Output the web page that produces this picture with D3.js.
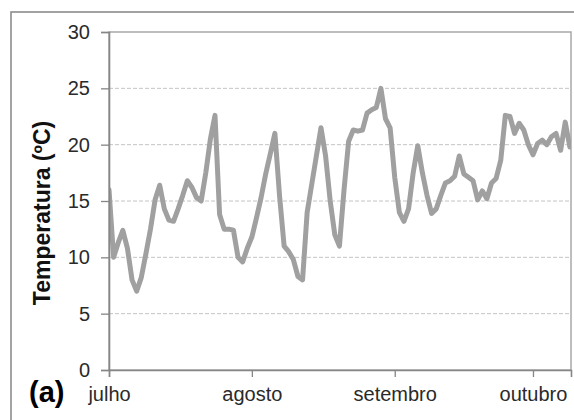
<!DOCTYPE html>
<html>
<head>
<meta charset="utf-8">
<script src="https://cdn.jsdelivr.net/npm/d3@7"></script>
<style>
  html, body { margin: 0; padding: 0; background: #fff; }
  svg { display: block; font-family: "Liberation Sans", Arial, sans-serif; }
</style>
</head>
<body>
<svg id="chart" width="574" height="420"></svg>
<script>
// Daily mean temperature (ºC), one value per day from 1 July
const startDate = new Date(2013, 6, 1);
const temperatures = [
  16, 10, 11.3, 12.4, 10.8, 8, 7, 8.2, 10.3, 12.5,
  15.1, 16.4, 14.3, 13.3, 13.2, 14.3, 15.5, 16.8, 16.2, 15.3,
  15.0, 17.5, 20.5, 22.6, 13.8, 12.5, 12.5, 12.4, 10, 9.6,
  10.8, 11.8, 13.5, 15.3, 17.4, 19.2, 21, 15.5, 11, 10.5,
  9.8, 8.3, 8, 14, 16.5, 19, 21.5, 19, 15, 12,
  11, 16, 20.3, 21.3, 21.2, 21.3, 22.8, 23.1, 23.3, 25,
  22.3, 21.5, 17.1, 14, 13.2, 14.3, 17.5, 19.9, 17.5, 15.5,
  13.9, 14.3, 15.5, 16.6, 16.8, 17.2, 19, 17.4, 17.1, 16.8,
  15.1, 15.9, 15.2, 16.6, 17, 18.6, 22.6, 22.5, 21, 21.9,
  21.3, 20, 19.1, 20.1, 20.4, 20, 20.7, 21, 19.5, 22,
  19.8
];

// Month tick positions and their labels
const monthStarts = [new Date(2013, 6, 1), new Date(2013, 7, 1), new Date(2013, 8, 1), new Date(2013, 9, 1)];
const monthLabels = ["julho", "agosto", "setembro", "outubro"];

// Y axis ticks
const yTicks = [0, 5, 10, 15, 20, 25, 30];
const yTitle = "Temperatura (ºC)";
const panelLabel = "(a)";

const series = temperatures.map((v, i) => ({ date: d3.timeDay.offset(startDate, i), value: v }));

const svg = d3.select("#chart");
const plot = { left: 109, right: 571, top: 32, bottom: 370 };

const x = d3.scaleTime()
  .domain([startDate, new Date(2013, 9, 9, 6)])
  .range([plot.left, plot.right]);
const y = d3.scaleLinear().domain([0, 30]).range([plot.bottom, plot.top]);

// Outer chart frame
svg.append("rect")
  .attr("x", 11).attr("y", 12).attr("width", 600).attr("height", 450)
  .attr("fill", "none").attr("stroke", "#8c8c8c").attr("stroke-width", 1.6);

// Dashed horizontal gridlines
svg.append("g")
  .selectAll("line")
  .data(yTicks.filter(t => t > 0 && t < 30))
  .join("line")
  .attr("x1", plot.left).attr("x2", plot.right)
  .attr("y1", d => y(d)).attr("y2", d => y(d))
  .attr("stroke", "#c4c4c4").attr("stroke-width", 1)
  .attr("stroke-dasharray", "4,2");

// Plot area border
svg.append("rect")
  .attr("x", plot.left).attr("y", plot.top)
  .attr("width", plot.right - plot.left).attr("height", plot.bottom - plot.top)
  .attr("fill", "none").attr("stroke", "#a8a8a8").attr("stroke-width", 1.5);

// Temperature line, clipped to the plot area
svg.append("defs").append("clipPath").attr("id", "plotClip")
  .append("rect").attr("x", plot.left).attr("y", plot.top - 5)
  .attr("width", plot.right - plot.left).attr("height", plot.bottom - plot.top + 10);

const line = d3.line().x(d => x(d.date)).y(d => y(d.value));
svg.append("path")
  .datum(series)
  .attr("clip-path", "url(#plotClip)")
  .attr("d", line)
  .attr("fill", "none")
  .attr("stroke", "#a0a0a0")
  .attr("stroke-width", 5)
  .attr("stroke-linejoin", "round")
  .attr("stroke-linecap", "round");

// Y axis
const yAxis = svg.append("g")
  .attr("transform", `translate(${plot.left},0)`)
  .call(d3.axisLeft(y).tickValues(yTicks).tickSize(8).tickPadding(11));
yAxis.select(".domain").attr("stroke", "#868686").attr("stroke-width", 1.6);
yAxis.selectAll(".tick line").attr("stroke", "#868686").attr("stroke-width", 1.3);
yAxis.selectAll(".tick text")
  .attr("fill", "#2a2a2a")
  .style("font-size", "20px")
  .style("font-family", "'Liberation Sans', Arial, sans-serif");

// X axis
const xAxis = svg.append("g")
  .attr("transform", `translate(0,${plot.bottom})`)
  .call(d3.axisBottom(x).tickValues(monthStarts).tickFormat((d, i) => monthLabels[i]).tickSize(7).tickPadding(10));
xAxis.select(".domain").attr("stroke", "#868686").attr("stroke-width", 1.6);
xAxis.selectAll(".tick line").attr("stroke", "#868686").attr("stroke-width", 1.3);
xAxis.selectAll(".tick text")
  .attr("fill", "#2a2a2a")
  .style("font-size", "20px")
  .style("font-family", "'Liberation Sans', Arial, sans-serif");

// Y axis title
svg.append("text")
  .attr("transform", "translate(50,213) rotate(-90)")
  .attr("text-anchor", "middle")
  .attr("fill", "#111")
  .style("font-size", "23px")
  .style("font-weight", "bold")
  .text(yTitle);

// Panel label
svg.append("text")
  .attr("x", 29).attr("y", 402)
  .attr("fill", "#000")
  .style("font-size", "29px")
  .style("font-weight", "bold")
  .text(panelLabel);
</script>
</body>
</html>
